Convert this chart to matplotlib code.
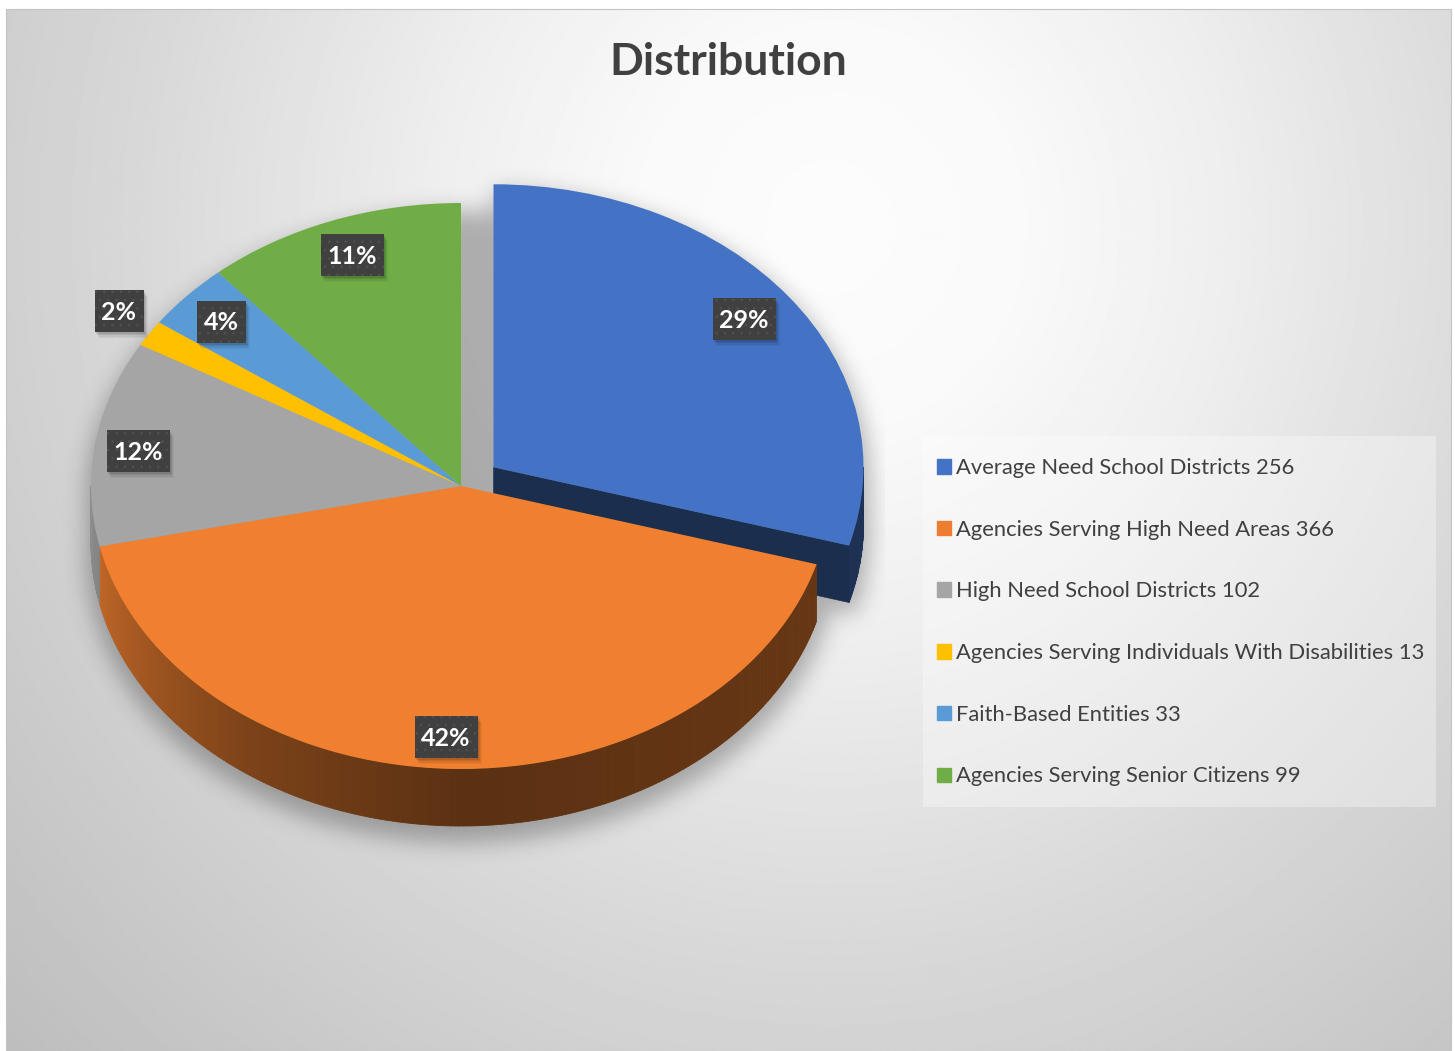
import numpy as np
import matplotlib
matplotlib.use("Agg")
import matplotlib.pyplot as plt
from matplotlib.patches import Rectangle, Patch
from matplotlib.collections import PolyCollection
from matplotlib.transforms import Affine2D

categories = ["Average Need School Districts", "Agencies Serving High Need Areas",
              "High Need School Districts", "Agencies Serving Individuals With Disabilities",
              "Faith-Based Entities", "Agencies Serving Senior Citizens"]
values = [256, 366, 102, 13, 33, 99]
pct_labels = ["29%", "42%", "12%", "2%", "4%", "11%"]
pie_colors = ["#4472C4", "#F08030", "#A5A5A5", "#FFC000", "#5B9BD5", "#70AD47"]
legend_colors = ["#4472C4", "#ED7D31", "#A5A5A5", "#FFC000", "#5B9BD5", "#70AD47"]
explode = [0.11, 0, 0, 0, 0, 0]
title = "Distribution"

W, H = 1455, 1051
CX, CY, RX, RY, DEPTH = 461, 486, 370, 283, 57
FONT = ["Lato", "DejaVu Sans"]
plt.rcParams["hatch.linewidth"] = 0.5

fig = plt.figure(figsize=(W / 100, H / 100), dpi=100, facecolor="white")
px = Affine2D().scale(1 / W, -1 / H).translate(0, 1) + fig.transFigure

# ---- background gradient and soft shadow
bg = fig.add_axes([0, 0, 1, 1], zorder=0)
bg.set_xlim(0, W); bg.set_ylim(H, 0); bg.axis("off")
yy, xx = np.mgrid[0:H, 0:W]
d = np.hypot(xx - 830, (yy - 220) * 0.95)
grey = np.interp(d, [0, 200, 400, 700, 1000, 1200], [252, 249, 238, 216, 198, 186])
bg.imshow(grey, cmap="gray", vmin=0, vmax=255, extent=(6, 1451, 1051, 9), aspect="auto",
          interpolation="bilinear", zorder=0)
bg.set_xlim(0, W); bg.set_ylim(H, 0)
bg.add_patch(Rectangle((6, 9), 1445, 1042, fill=False, ec="#c4c4c4", lw=0.8, zorder=1))

v = np.asarray(values, float)
edges = np.concatenate([[0], np.cumsum(v) / v.sum() * 2 * np.pi])
mid0 = (edges[0] + edges[1]) / 2
ox, oy = explode[0] * np.sin(mid0) * RX, -explode[0] * np.cos(mid0) * RY

mask = np.zeros((H, W))
for off in range(0, DEPTH + 1, 3):
    e = ((xx - CX) / (RX * 1.015)) ** 2 + ((yy - CY - off - 12) / (RY * 1.015)) ** 2 < 1
    bx, by = (xx - CX - ox) / (RX * 1.015), (yy - CY - oy - off - 10) / (RY * 1.015)
    ang = np.mod(np.arctan2(bx, -by), 2 * np.pi)
    s = (bx ** 2 + by ** 2 < 1) & (ang < edges[1])
    mask = np.maximum(mask, (e | s).astype(float))
sigma = 11.0
fy = np.fft.fftfreq(H)[:, None]; fx = np.fft.rfftfreq(W)[None, :]
blur = np.fft.irfft2(np.fft.rfft2(mask) * np.exp(-2 * (np.pi * sigma) ** 2 * (fx ** 2 + fy ** 2)), s=mask.shape)
blur = np.clip(blur, 0, 1)
blur[:, 885:] = 0
rgba = np.zeros((H, W, 4))
rgba[..., 3] = blur * 0.28
bg.imshow(rgba, extent=(0, W, H, 0), aspect="auto", zorder=2)
bg.set_xlim(0, W); bg.set_ylim(H, 0)

# ---- pie: unit radius in data space is the perspective ellipse
ax = fig.add_axes([0, 0, 1, 1], zorder=1)
ax.patch.set_alpha(0)
wedges, _ = ax.pie(values, colors=pie_colors, startangle=90, counterclock=False,
                   explode=explode, radius=1, wedgeprops=dict(linewidth=0))
for w_ in wedges:
    w_.set_zorder(5)
ax.set_aspect("auto")
ax.set_xlim(-CX / RX, (W - CX) / RX)
ax.set_ylim((CY - H) / RY, CY / RY)
ax.axis("off")
depth = DEPTH / RY

def shade(t):
    return np.interp(np.degrees(t), [90, 130, 180, 215, 258, 270], [0.44, 0.42, 0.38, 0.52, 0.80, 0.86])

def wall(i, dx=0.0, dy=0.0):
    lo, hi = max(edges[i], np.pi / 2), min(edges[i + 1], 3 * np.pi / 2)
    if hi <= lo:
        return
    ts = np.linspace(lo, hi, max(3, int((hi - lo) * 90)))
    polys, cols = [], []
    rgb = np.array(matplotlib.colors.to_rgb(pie_colors[i]))
    for a, b in zip(ts[:-1], ts[1:]):
        xa, ya, xb, yb = np.sin(a) + dx, np.cos(a) + dy, np.sin(b) + dx, np.cos(b) + dy
        polys.append([(xa, ya), (xb, yb), (xb, yb - depth), (xa, ya - depth)])
        cols.append(rgb * shade((a + b) / 2))
    ax.add_collection(PolyCollection(polys, facecolors=cols, edgecolors=cols, linewidths=0.6, zorder=3))

# blue slice: rim and cut face
bdx, bdy = ox / RX, -oy / RY
wall(0, bdx, bdy)
end = edges[1]
navy = np.array(matplotlib.colors.to_rgb(pie_colors[0])) * 0.40
ax.fill([bdx, np.sin(end) + bdx, np.sin(end) + bdx, bdx],
        [bdy, np.cos(end) + bdy, np.cos(end) + bdy - depth, bdy - depth],
        color=navy, lw=0.4, zorder=3)
for i in range(1, len(values)):
    wall(i)

# ---- data labels
label_pos = [(744, 319), (446, 737), (138, 451), (119, 311), (221, 322), (352, 255)]
for txt, (x, y) in zip(pct_labels, label_pos):
    w = 63 if len(txt) == 3 else 49
    h = 42
    for k, a in zip((9, 7, 5, 3), (0.04, 0.06, 0.08, 0.10)):
        ax.add_patch(Rectangle((x - w / 2 + k * .55, y - h / 2 + k * .65), w, h,
                               transform=px, fc="black", alpha=a, lw=0, zorder=6))
    ax.add_patch(Rectangle((x - w / 2, y - h / 2), w, h, transform=px, fc="#404040",
                           ec="#525252", hatch="..", lw=0, zorder=7))
    ax.text(x, y + 1, txt, transform=px, ha="center", va="center", color="white",
            fontsize=18, fontweight="bold", family=FONT, zorder=8)

# ---- title
ax.text(728, 62, title, transform=px, ha="center", va="center", color="#404040",
        fontsize=32, fontweight="bold", family=FONT, zorder=8)

# ---- legend
ax.add_patch(Rectangle((923, 436), 513, 371, transform=px, fc="white", alpha=0.33, lw=0, zorder=4))
handles = [Patch(color=c) for c in legend_colors]
labels = [f"{c} {n}" for c, n in zip(categories, values)]
leg = ax.legend(handles, labels, loc="upper left", bbox_to_anchor=(937, 458), bbox_transform=px,
                frameon=False, borderaxespad=0, borderpad=0, handlelength=0.64, handleheight=0.64,
                handletextpad=0.22, labelspacing=1.9, labelcolor="#404040",
                prop=dict(family=FONT, size=15.8))
leg.set_zorder(8)

fig.savefig("out.png", dpi=100, facecolor="white")
